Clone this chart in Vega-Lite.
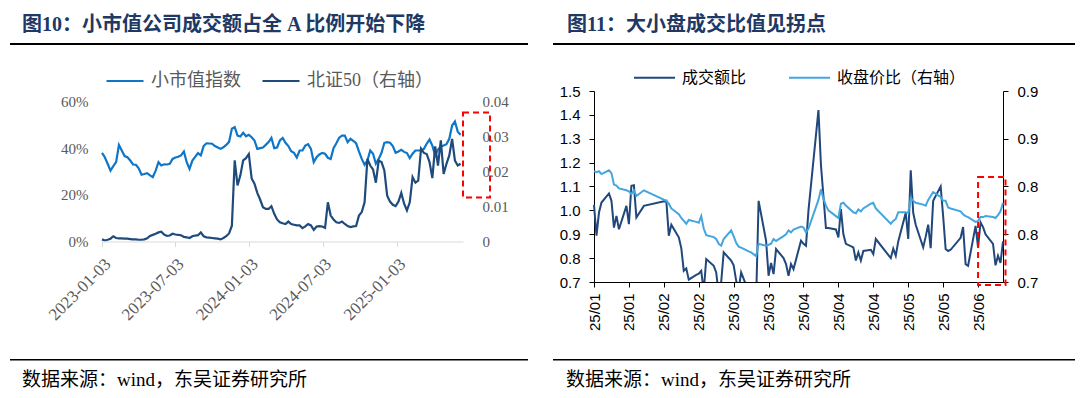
{
  "$schema": "https://vega.github.io/schema/vega-lite/v6.json",
  "background": "#ffffff",
  "padding": {"left": 10, "right": 0, "top": 15, "bottom": 0},
  "spacing": 25,
  "resolve": {"scale": {"color": "independent"}, "legend": {"color": "independent"}},
  "config": {"view": {"stroke": null}, "axis": {"grid": false}},
  "hconcat": [
    {
      "spacing": 11.5,
      "resolve": {"legend": {"color": "independent"}},
      "vconcat": [
        {
          "width": 518, "height": 2,
          "view": {"fill": "#000000", "stroke": null},
          "title": {"text": "图10：小市值公司成交额占全 A 比例开始下降", "anchor": "start", "dx": 12, "offset": 3, "fontSize": 20, "fontWeight": "bold", "font": "Liberation Serif, Noto Sans CJK SC", "color": "#203864"},
          "data": {"values": [{"k": ""}]},
          "mark": {"type": "text"},
          "encoding": {"text": {"field": "k", "type": "nominal"}}
        },
        {
          "width": 518, "height": 140,
          "data": {"values": [
            {"date":"2023-01-03","small":0.380,"bz50":0.0006},{"date":"2023-01-10","small":0.361,"bz50":0.0003},{"date":"2023-01-17","small":0.333,"bz50":0.0005},{"date":"2023-01-24","small":0.304,"bz50":0.0008},{"date":"2023-01-31","small":0.323,"bz50":0.0015},
            {"date":"2023-02-07","small":0.340,"bz50":0.0010},{"date":"2023-02-14","small":0.414,"bz50":0.0009},{"date":"2023-02-21","small":0.390,"bz50":0.0009},{"date":"2023-02-28","small":0.366,"bz50":0.0008},
            {"date":"2023-03-07","small":0.361,"bz50":0.0008},{"date":"2023-03-14","small":0.347,"bz50":0.0007},{"date":"2023-03-21","small":0.330,"bz50":0.0006},{"date":"2023-03-28","small":0.329,"bz50":0.0006},
            {"date":"2023-04-04","small":0.314,"bz50":0.0005},{"date":"2023-04-11","small":0.286,"bz50":0.0005},{"date":"2023-04-18","small":0.289,"bz50":0.0006},{"date":"2023-04-25","small":0.293,"bz50":0.0009},
            {"date":"2023-05-02","small":0.283,"bz50":0.0016},{"date":"2023-05-09","small":0.276,"bz50":0.0019},{"date":"2023-05-16","small":0.304,"bz50":0.0022},{"date":"2023-05-23","small":0.340,"bz50":0.0026},{"date":"2023-05-30","small":0.326,"bz50":0.0028},
            {"date":"2023-06-06","small":0.331,"bz50":0.0020},{"date":"2023-06-13","small":0.330,"bz50":0.0016},{"date":"2023-06-20","small":0.333,"bz50":0.0017},{"date":"2023-06-27","small":0.354,"bz50":0.0022},
            {"date":"2023-07-04","small":0.360,"bz50":0.0020},{"date":"2023-07-11","small":0.363,"bz50":0.0019},{"date":"2023-07-18","small":0.369,"bz50":0.0018},{"date":"2023-07-25","small":0.386,"bz50":0.0013},
            {"date":"2023-08-01","small":0.340,"bz50":0.0012},{"date":"2023-08-08","small":0.311,"bz50":0.0010},{"date":"2023-08-15","small":0.347,"bz50":0.0015},{"date":"2023-08-22","small":0.363,"bz50":0.0017},{"date":"2023-08-29","small":0.379,"bz50":0.0018},
            {"date":"2023-09-05","small":0.369,"bz50":0.0026},{"date":"2023-09-12","small":0.409,"bz50":0.0015},{"date":"2023-09-19","small":0.421,"bz50":0.0012},{"date":"2023-09-26","small":0.420,"bz50":0.0011},
            {"date":"2023-10-03","small":0.419,"bz50":0.0010},{"date":"2023-10-10","small":0.409,"bz50":0.0009},{"date":"2023-10-17","small":0.403,"bz50":0.0008},{"date":"2023-10-24","small":0.397,"bz50":0.0006},{"date":"2023-10-31","small":0.404,"bz50":0.0010},
            {"date":"2023-11-07","small":0.414,"bz50":0.0015},{"date":"2023-11-14","small":0.427,"bz50":0.0023},{"date":"2023-11-21","small":0.483,"bz50":0.0045},{"date":"2023-11-28","small":0.490,"bz50":0.0232},
            {"date":"2023-12-05","small":0.454,"bz50":0.0160},{"date":"2023-12-12","small":0.450,"bz50":0.0189},{"date":"2023-12-19","small":0.466,"bz50":0.0232},{"date":"2023-12-26","small":0.451,"bz50":0.0238},
            {"date":"2024-01-02","small":0.457,"bz50":0.0250},{"date":"2024-01-09","small":0.447,"bz50":0.0180},{"date":"2024-01-16","small":0.433,"bz50":0.0165},{"date":"2024-01-23","small":0.397,"bz50":0.0139},{"date":"2024-01-30","small":0.400,"bz50":0.0120},
            {"date":"2024-02-06","small":0.403,"bz50":0.0098},{"date":"2024-02-13","small":0.414,"bz50":0.0093},{"date":"2024-02-20","small":0.426,"bz50":0.0093},{"date":"2024-02-27","small":0.444,"bz50":0.0101},
            {"date":"2024-03-05","small":0.400,"bz50":0.0079},{"date":"2024-03-12","small":0.403,"bz50":0.0063},{"date":"2024-03-19","small":0.433,"bz50":0.0055},{"date":"2024-03-26","small":0.444,"bz50":0.0052},
            {"date":"2024-04-02","small":0.423,"bz50":0.0050},{"date":"2024-04-09","small":0.409,"bz50":0.0057},{"date":"2024-04-16","small":0.387,"bz50":0.0050},{"date":"2024-04-23","small":0.380,"bz50":0.0048},{"date":"2024-04-30","small":0.360,"bz50":0.0046},
            {"date":"2024-05-07","small":0.390,"bz50":0.0046},{"date":"2024-05-14","small":0.390,"bz50":0.0038},{"date":"2024-05-21","small":0.411,"bz50":0.0043},{"date":"2024-05-28","small":0.417,"bz50":0.0050},
            {"date":"2024-06-04","small":0.397,"bz50":0.0046},{"date":"2024-06-11","small":0.340,"bz50":0.0033},{"date":"2024-06-18","small":0.361,"bz50":0.0043},{"date":"2024-06-25","small":0.373,"bz50":0.0044},
            {"date":"2024-07-02","small":0.380,"bz50":0.0043},{"date":"2024-07-09","small":0.376,"bz50":0.0039},{"date":"2024-07-16","small":0.359,"bz50":0.0112},{"date":"2024-07-23","small":0.354,"bz50":0.0074},{"date":"2024-07-30","small":0.400,"bz50":0.0063},
            {"date":"2024-08-06","small":0.421,"bz50":0.0055},{"date":"2024-08-13","small":0.445,"bz50":0.0053},{"date":"2024-08-20","small":0.454,"bz50":0.0057},{"date":"2024-08-27","small":0.454,"bz50":0.0050},
            {"date":"2024-09-03","small":0.426,"bz50":0.0044},{"date":"2024-09-10","small":0.440,"bz50":0.0041},{"date":"2024-09-17","small":0.431,"bz50":0.0043},{"date":"2024-09-24","small":0.421,"bz50":0.0044},
            {"date":"2024-10-01","small":0.386,"bz50":0.0074},{"date":"2024-10-08","small":0.354,"bz50":0.0084},{"date":"2024-10-15","small":0.329,"bz50":0.0112},{"date":"2024-10-22","small":0.347,"bz50":0.0236},{"date":"2024-10-29","small":0.390,"bz50":0.0217},
            {"date":"2024-11-05","small":0.376,"bz50":0.0206},{"date":"2024-11-12","small":0.333,"bz50":0.0168},{"date":"2024-11-19","small":0.354,"bz50":0.0231},{"date":"2024-11-26","small":0.380,"bz50":0.0227},
            {"date":"2024-12-03","small":0.423,"bz50":0.0203},{"date":"2024-12-10","small":0.426,"bz50":0.0131},{"date":"2024-12-17","small":0.423,"bz50":0.0114},{"date":"2024-12-24","small":0.409,"bz50":0.0105},{"date":"2024-12-31","small":0.380,"bz50":0.0101},
            {"date":"2025-01-07","small":0.386,"bz50":0.0114},{"date":"2025-01-14","small":0.393,"bz50":0.0139},{"date":"2025-01-21","small":0.384,"bz50":0.0108},{"date":"2025-01-28","small":0.379,"bz50":0.0089},
            {"date":"2025-02-04","small":0.357,"bz50":0.0112},{"date":"2025-02-11","small":0.376,"bz50":0.0184},{"date":"2025-02-18","small":0.390,"bz50":0.0168},{"date":"2025-02-25","small":0.390,"bz50":0.0174},
            {"date":"2025-03-04","small":0.390,"bz50":0.0265},{"date":"2025-03-11","small":0.397,"bz50":0.0253},{"date":"2025-03-18","small":0.419,"bz50":0.0250},{"date":"2025-03-25","small":0.437,"bz50":0.0227},
            {"date":"2025-04-01","small":0.411,"bz50":0.0181},{"date":"2025-04-08","small":0.369,"bz50":0.0272},{"date":"2025-04-15","small":0.394,"bz50":0.0217},{"date":"2025-04-22","small":0.407,"bz50":0.0289},{"date":"2025-04-29","small":0.411,"bz50":0.0193},
            {"date":"2025-05-06","small":0.417,"bz50":0.0222},{"date":"2025-05-13","small":0.440,"bz50":0.0246},{"date":"2025-05-20","small":0.497,"bz50":0.0293},{"date":"2025-05-27","small":0.514,"bz50":0.0231},
            {"date":"2025-06-03","small":0.471,"bz50":0.0217},{"date":"2025-06-10","small":0.457,"bz50":0.0222}
          ]},
          "layer": [
            {
              "mark": {"type": "line", "strokeWidth": 2.2, "clip": true},
              "encoding": {
                "x": {"field": "date", "type": "temporal",
                  "scale": {"type": "utc", "range": [92, 453], "domain": [{"year": 2023, "month": 1, "date": 3, "utc": true}, {"year": 2025, "month": 6, "date": 16, "utc": true}]},
                  "axis": {"values": [{"year": 2023, "month": 1, "date": 3, "utc": true}, {"year": 2023, "month": 7, "date": 3, "utc": true}, {"year": 2024, "month": 1, "date": 3, "utc": true}, {"year": 2024, "month": 7, "date": 3, "utc": true}, {"year": 2025, "month": 1, "date": 3, "utc": true}],
                    "labelExpr": "utcFormat(datum.value, '%Y-%m-%d')", "labelAngle": -45, "labelFlush": false, "labelOverlap": false, "title": null,
                    "domainColor": "#D9D9D9", "tickColor": "#D9D9D9", "tickSize": 5, "labelFont": "Liberation Serif", "labelFontSize": 17, "labelColor": "#595959", "labelPadding": 9, "minExtent": 100}},
                "y": {"field": "small", "type": "quantitative", "scale": {"domain": [0, 0.6], "nice": false},
                  "axis": {"orient": "left", "offset": -92, "values": [0, 0.2, 0.4, 0.6], "format": ".0%", "domain": false, "ticks": false, "title": null,
                    "labelFont": "Liberation Serif", "labelFontSize": 15, "labelColor": "#595959", "labelPadding": 14}},
                "color": {"datum": "小市值指数", "type": "nominal",
                  "scale": {"domain": ["小市值指数", "北证50（右轴）"], "range": ["#0E76C8", "#1F4A7C"]},
                  "legend": {"orient": "none", "legendX": 95, "legendY": -40.5, "direction": "horizontal", "title": null, "padding": 0,
                    "symbolType": "stroke", "symbolSize": 1369, "symbolStrokeWidth": 2.2,
                    "labelFont": "Liberation Serif, Noto Sans CJK SC", "labelFontSize": 18, "labelColor": "#595959", "labelOffset": 6, "columnPadding": 17, "labelLimit": 300}}
              }
            },
            {
              "mark": {"type": "line", "strokeWidth": 2.2, "clip": true},
              "encoding": {
                "x": {"field": "date", "type": "temporal"},
                "y": {"field": "bz50", "type": "quantitative", "scale": {"domain": [0, 0.04], "nice": false},
                  "axis": {"orient": "right", "offset": -65, "values": [0, 0.01, 0.02, 0.03, 0.04], "format": ".2~f", "domain": false, "ticks": false, "title": null,
                    "labelFont": "Liberation Serif", "labelFontSize": 15, "labelColor": "#595959", "labelPadding": 19}},
                "color": {"datum": "北证50（右轴）", "type": "nominal"}
              }
            },
            {
              "data": {"values": [{"box": "highlight"}]},
              "mark": {"type": "rect", "filled": false, "stroke": "#FF0000", "strokeWidth": 2, "strokeDash": [6, 4], "clip": false},
              "encoding": {
                "x": {"datum": {"year": 2025, "month": 6, "date": 16, "utc": true}, "type": "temporal"},
                "x2": {"datum": {"year": 2025, "month": 8, "date": 22, "utc": true}},
                "y": {"datum": 0.553, "type": "quantitative", "scale": {"domain": [0, 0.6], "nice": false}, "axis": null},
                "y2": {"datum": 0.189}
              }
            }
          ],
          "resolve": {"scale": {"y": "independent"}}
        },
        {
          "width": 518, "height": 1.5,
          "view": {"fill": "#000000", "stroke": null},
          "title": {"text": "数据来源：wind，东吴证券研究所", "orient": "bottom", "anchor": "start", "dx": 12, "offset": 6, "fontSize": 19, "fontWeight": "normal", "font": "Liberation Serif, Noto Sans CJK SC", "color": "#000000"},
          "data": {"values": [{"k": ""}]},
          "mark": {"type": "text"},
          "encoding": {"text": {"field": "k", "type": "nominal"}}
        }
      ]
    },
    {
      "spacing": 7,
      "resolve": {"legend": {"color": "independent"}},
      "vconcat": [
        {
          "width": 522, "height": 2,
          "view": {"fill": "#000000", "stroke": null},
          "title": {"text": "图11：大小盘成交比值见拐点", "anchor": "start", "dx": 14, "offset": 3, "fontSize": 20, "fontWeight": "bold", "font": "Liberation Serif, Noto Sans CJK SC", "color": "#203864"},
          "data": {"values": [{"k": ""}]},
          "mark": {"type": "text"},
          "encoding": {"text": {"field": "k", "type": "nominal"}}
        },
        {
          "width": 522, "height": 191,
          "data": {"values": [
            {"date":"2025-01-07","vol":1.023,"price":0.816},{"date":"2025-01-08","vol":0.894,"price":0.815},{"date":"2025-01-09","vol":0.991,"price":0.816},{"date":"2025-01-10","vol":1.033,"price":0.813},
            {"date":"2025-01-13","vol":1.071,"price":0.817},{"date":"2025-01-14","vol":1.040,"price":0.814},{"date":"2025-01-15","vol":0.928,"price":0.802},{"date":"2025-01-16","vol":0.977,"price":0.801},{"date":"2025-01-17","vol":0.921,"price":0.798},
            {"date":"2025-01-20","vol":1.019,"price":0.796},{"date":"2025-01-21","vol":0.942,"price":0.795},{"date":"2025-01-22","vol":1.103,"price":0.792},{"date":"2025-01-23","vol":1.105,"price":0.796},{"date":"2025-01-24","vol":0.970,"price":0.790},
            {"date":"2025-01-27","vol":1.019,"price":0.796},
            {"date":"2025-02-05","vol":1.040,"price":0.785},{"date":"2025-02-06","vol":0.894,"price":0.782},{"date":"2025-02-07","vol":0.940,"price":0.777},
            {"date":"2025-02-10","vol":0.887,"price":0.771},{"date":"2025-02-11","vol":0.842,"price":0.767},{"date":"2025-02-12","vol":0.747,"price":0.764},{"date":"2025-02-13","vol":0.757,"price":0.761},{"date":"2025-02-14","vol":0.710,"price":0.765},
            {"date":"2025-02-17","vol":0.730,"price":0.763},{"date":"2025-02-18","vol":0.735,"price":0.762},{"date":"2025-02-19","vol":0.747,"price":0.769},{"date":"2025-02-20","vol":0.660,"price":0.756},{"date":"2025-02-21","vol":0.796,"price":0.749},
            {"date":"2025-02-24","vol":0.768,"price":0.747},{"date":"2025-02-25","vol":0.740,"price":0.745},{"date":"2025-02-26","vol":0.650,"price":0.740},{"date":"2025-02-27","vol":0.700,"price":0.738},{"date":"2025-02-28","vol":0.824,"price":0.745},
            {"date":"2025-03-03","vol":0.790,"price":0.754},{"date":"2025-03-04","vol":0.770,"price":0.748},{"date":"2025-03-05","vol":0.706,"price":0.741},{"date":"2025-03-06","vol":0.670,"price":0.737},{"date":"2025-03-07","vol":0.740,"price":0.736},
            {"date":"2025-03-10","vol":0.660,"price":0.732},{"date":"2025-03-11","vol":0.620,"price":0.731},{"date":"2025-03-12","vol":0.630,"price":0.729},{"date":"2025-03-13","vol":0.620,"price":0.727},{"date":"2025-03-14","vol":1.040,"price":0.740},
            {"date":"2025-03-17","vol":0.873,"price":0.738},{"date":"2025-03-18","vol":0.726,"price":0.739},{"date":"2025-03-19","vol":0.780,"price":0.740},{"date":"2025-03-20","vol":0.733,"price":0.745},{"date":"2025-03-21","vol":0.838,"price":0.743},
            {"date":"2025-03-24","vol":0.800,"price":0.748},{"date":"2025-03-25","vol":0.775,"price":0.750},{"date":"2025-03-26","vol":0.726,"price":0.754},{"date":"2025-03-27","vol":0.775,"price":0.752},{"date":"2025-03-28","vol":0.754,"price":0.755},
            {"date":"2025-03-31","vol":0.873,"price":0.758},{"date":"2025-04-01","vol":0.860,"price":0.757},{"date":"2025-04-02","vol":0.852,"price":0.752},{"date":"2025-04-03","vol":1.000,"price":0.756},
            {"date":"2025-04-07","vol":1.420,"price":0.786},{"date":"2025-04-08","vol":1.190,"price":0.797},{"date":"2025-04-09","vol":1.060,"price":0.787},{"date":"2025-04-10","vol":0.926,"price":0.780},{"date":"2025-04-11","vol":0.926,"price":0.775},
            {"date":"2025-04-14","vol":0.920,"price":0.769},{"date":"2025-04-15","vol":0.887,"price":0.767},{"date":"2025-04-16","vol":1.005,"price":0.782},{"date":"2025-04-17","vol":0.900,"price":0.783},{"date":"2025-04-18","vol":0.860,"price":0.780},
            {"date":"2025-04-21","vol":0.845,"price":0.773},{"date":"2025-04-22","vol":0.790,"price":0.772},{"date":"2025-04-23","vol":0.824,"price":0.776},{"date":"2025-04-24","vol":0.790,"price":0.774},{"date":"2025-04-25","vol":0.830,"price":0.777},
            {"date":"2025-04-28","vol":0.835,"price":0.782},{"date":"2025-04-29","vol":0.817,"price":0.783},{"date":"2025-04-30","vol":0.880,"price":0.777},
            {"date":"2025-05-06","vol":0.800,"price":0.761},{"date":"2025-05-07","vol":0.840,"price":0.764},{"date":"2025-05-08","vol":0.810,"price":0.766},{"date":"2025-05-09","vol":0.870,"price":0.773},
            {"date":"2025-05-12","vol":0.990,"price":0.773},{"date":"2025-05-13","vol":0.880,"price":0.772},{"date":"2025-05-14","vol":1.168,"price":0.788},{"date":"2025-05-15","vol":0.990,"price":0.785},{"date":"2025-05-16","vol":0.940,"price":0.783},
            {"date":"2025-05-19","vol":0.845,"price":0.781},{"date":"2025-05-20","vol":0.890,"price":0.780},{"date":"2025-05-21","vol":0.940,"price":0.786},{"date":"2025-05-22","vol":0.842,"price":0.790},{"date":"2025-05-23","vol":1.040,"price":0.794},
            {"date":"2025-05-26","vol":1.100,"price":0.789},{"date":"2025-05-27","vol":0.976,"price":0.785},{"date":"2025-05-28","vol":0.838,"price":0.785},{"date":"2025-05-29","vol":0.830,"price":0.778},{"date":"2025-05-30","vol":0.835,"price":0.777},
            {"date":"2025-06-03","vol":0.885,"price":0.774},{"date":"2025-06-04","vol":0.930,"price":0.771},{"date":"2025-06-05","vol":0.775,"price":0.769},{"date":"2025-06-06","vol":0.768,"price":0.768},
            {"date":"2025-06-09","vol":0.935,"price":0.763},{"date":"2025-06-10","vol":0.845,"price":0.764},{"date":"2025-06-11","vol":0.950,"price":0.768},{"date":"2025-06-12","vol":0.930,"price":0.768},{"date":"2025-06-13","vol":0.900,"price":0.769},
            {"date":"2025-06-16","vol":0.860,"price":0.768},{"date":"2025-06-17","vol":0.770,"price":0.767},{"date":"2025-06-18","vol":0.810,"price":0.770},{"date":"2025-06-19","vol":0.780,"price":0.774},{"date":"2025-06-20","vol":0.870,"price":0.783}
          ]},
          "layer": [
            {
              "mark": {"type": "line", "strokeWidth": 2, "clip": true},
              "encoding": {
                "x": {"field": "date", "type": "temporal",
                  "scale": {"type": "utc", "range": [41, 450], "domain": [{"year": 2025, "month": 1, "date": 7, "utc": true}, {"year": 2025, "month": 6, "date": 20, "utc": true}]},
                  "axis": {"values": [
                      {"year": 2025, "month": 1, "date": 7, "utc": true}, {"year": 2025, "month": 1, "date": 21, "utc": true},
                      {"year": 2025, "month": 2, "date": 4, "utc": true}, {"year": 2025, "month": 2, "date": 18, "utc": true},
                      {"year": 2025, "month": 3, "date": 4, "utc": true}, {"year": 2025, "month": 3, "date": 18, "utc": true},
                      {"year": 2025, "month": 4, "date": 1, "utc": true}, {"year": 2025, "month": 4, "date": 15, "utc": true},
                      {"year": 2025, "month": 4, "date": 29, "utc": true}, {"year": 2025, "month": 5, "date": 13, "utc": true},
                      {"year": 2025, "month": 5, "date": 27, "utc": true}, {"year": 2025, "month": 6, "date": 10, "utc": true}],
                    "labelExpr": "utcFormat(datum.value, '%y/%m')", "labelAngle": -90, "labelFlush": false, "labelOverlap": false, "title": null,
                    "domainColor": "#000000", "tickColor": "#000000", "tickSize": 5, "labelFont": "Liberation Sans", "labelFontSize": 15, "labelColor": "#000000", "labelPadding": 6, "minExtent": 64}},
                "y": {"field": "vol", "type": "quantitative", "scale": {"domain": [0.7, 1.5], "nice": false, "zero": false},
                  "axis": {"orient": "left", "offset": -41, "values": [0.7, 0.8, 0.9, 1.0, 1.1, 1.2, 1.3, 1.4, 1.5], "format": ".1f", "title": null,
                    "domainColor": "#000000", "tickColor": "#000000", "tickSize": 5, "labelFont": "Liberation Sans", "labelFontSize": 15, "labelColor": "#000000", "labelPadding": 9}},
                "color": {"datum": "成交额比", "type": "nominal",
                  "scale": {"domain": ["成交额比", "收盘价比（右轴）"], "range": ["#21487A", "#45A5DF"]},
                  "legend": {"orient": "none", "legendX": 80, "legendY": -35, "direction": "horizontal", "title": null, "padding": 0,
                    "symbolType": "stroke", "symbolSize": 1681, "symbolStrokeWidth": 2,
                    "labelFont": "Noto Sans CJK SC", "labelFontSize": 16, "labelColor": "#000000", "labelOffset": 6, "columnPadding": 38, "labelLimit": 300}}
              }
            },
            {
              "mark": {"type": "line", "strokeWidth": 2, "clip": true},
              "encoding": {
                "x": {"field": "date", "type": "temporal"},
                "y": {"field": "price", "type": "quantitative", "scale": {"domain": [0.7, 0.9], "nice": false, "zero": false},
                  "axis": {"orient": "right", "offset": -72, "values": [0.7, 0.75, 0.8, 0.85, 0.9], "labelExpr": "format(datum.value + 0.001, '.1f')", "title": null,
                    "domainColor": "#000000", "tickColor": "#000000", "tickSize": 5, "labelFont": "Liberation Sans", "labelFontSize": 15, "labelColor": "#000000", "labelPadding": 9}},
                "color": {"datum": "收盘价比（右轴）", "type": "nominal"}
              }
            },
            {
              "data": {"values": [{"box": "highlight"}]},
              "mark": {"type": "rect", "filled": false, "stroke": "#FF0000", "strokeWidth": 2, "strokeDash": [6, 4], "clip": false},
              "encoding": {
                "x": {"datum": {"year": 2025, "month": 6, "date": 10, "utc": true}, "type": "temporal"},
                "x2": {"datum": {"year": 2025, "month": 6, "date": 21, "utc": true}},
                "y": {"datum": 1.14, "type": "quantitative", "scale": {"domain": [0.7, 1.5], "nice": false, "zero": false}, "axis": null},
                "y2": {"datum": 0.6875}
              }
            }
          ],
          "resolve": {"scale": {"y": "independent"}}
        },
        {
          "width": 522, "height": 1.5,
          "view": {"fill": "#000000", "stroke": null},
          "title": {"text": "数据来源：wind，东吴证券研究所", "orient": "bottom", "anchor": "start", "dx": 13, "offset": 6, "fontSize": 19, "fontWeight": "normal", "font": "Liberation Serif, Noto Sans CJK SC", "color": "#000000"},
          "data": {"values": [{"k": ""}]},
          "mark": {"type": "text"},
          "encoding": {"text": {"field": "k", "type": "nominal"}}
        }
      ]
    }
  ]
}
